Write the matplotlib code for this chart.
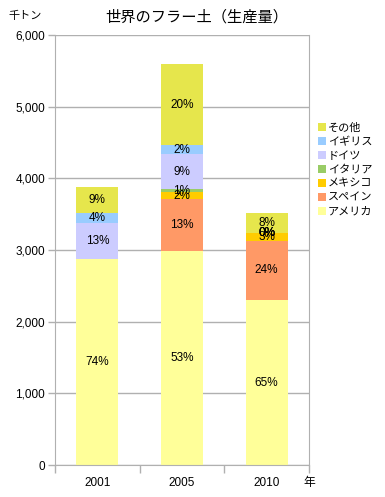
import numpy as np
import matplotlib.pyplot as plt
from matplotlib.lines import Line2D
from matplotlib.ticker import FuncFormatter

plt.rcParams['font.family'] = ['Liberation Sans', 'Noto Sans CJK JP', 'DejaVu Sans']

years = ['2001', '2005', '2010']
series = ['アメリカ', 'スペイン', 'メキシコ', 'イタリア', 'ドイツ', 'イギリス', 'その他']

# 千トン, nan = no data
america = [2870, 2986, 2300]
spain = [np.nan, 721, 830]
mexico = [np.nan, 100, 107]
italy = [np.nan, 45, 0]
germany = [505, 483, 0]
uk = [145, 130, 0]
other = [355, 1130, 283]

colors = ['#FFFF99', '#FF9966', '#FFCC00', '#99CC66', '#CCCCFF', '#99CCFF', '#E6E64C']

data = np.array([america, spain, mexico, italy, germany, uk, other], dtype=float)
totals = np.nansum(data, axis=0)

fig = plt.figure(figsize=(3.85, 4.97), dpi=100)
ax = fig.add_axes([55 / 385, 32 / 497, 254 / 385, 430 / 497])

x = np.arange(len(years))
bottom = np.zeros(len(years))
for vals, name, col in zip(data, series, colors):
    v = np.nan_to_num(vals)
    ax.bar(x, v, 0.5, bottom=bottom, color=col, zorder=2, linewidth=0)
    for i in range(len(years)):
        if np.isnan(vals[i]):
            continue
        pct = vals[i] / totals[i] * 100
        ax.text(x[i], bottom[i] + v[i] / 2, '%d%%' % round(pct),
                ha='center', va='center', fontsize=8.5, zorder=3)
    bottom += v

ax.set_xlim(-0.5, 2.5)
ax.set_ylim(0, 6000)
ax.set_yticks(range(0, 6001, 1000))
ax.yaxis.set_major_formatter(FuncFormatter(lambda v, p: '{:,.0f}'.format(v)))
ax.yaxis.grid(True, color='#B0B0B0', linewidth=1, zorder=0)
ax.set_xticks([-0.5, 0.5, 1.5, 2.5])
ax.set_xticklabels([])
ax.tick_params(axis='x', length=6, color='#B0B0B0', width=1)
ax.tick_params(axis='y', length=5, color='#B0B0B0', width=1, labelsize=8.5, pad=2)
for i, yr in enumerate(years):
    ax.text(x[i], -250, yr, ha='center', va='center', fontsize=8.5)
ax.text(2.5, -250, '年', ha='center', va='center', fontsize=8.5)
for s in ['left', 'bottom', 'right']:
    ax.spines[s].set_color('#B0B0B0')
ax.spines['top'].set_visible(False)

fig.text(197 / 385, 1 - 17 / 497, '世界のフラー土（生産量）', ha='center', va='center', fontsize=11,
         family=['Noto Sans CJK JP', 'DejaVu Sans'])
fig.text(25 / 385, 1 - 16 / 497, '千トン', ha='center', va='center', fontsize=8)

handles = [Line2D([], [], marker='s', linestyle='', markersize=5.5,
                  markerfacecolor=c, markeredgewidth=0) for c in colors]
leg = fig.legend(handles[::-1], series[::-1], loc='upper left',
                 bbox_to_anchor=(318 / 385, 1 - 123 / 497), frameon=False,
                 fontsize=8, handlelength=0.7, handletextpad=0.2,
                 labelspacing=0.35, borderpad=0, borderaxespad=0)

plt.savefig('out.png', dpi=100)
